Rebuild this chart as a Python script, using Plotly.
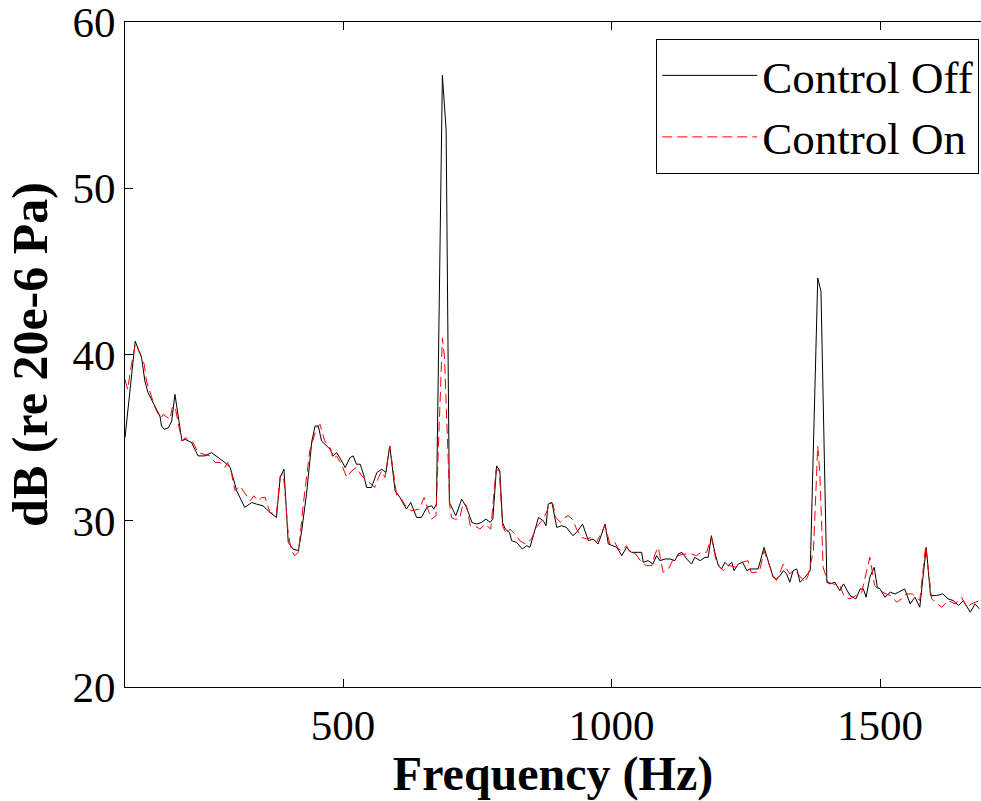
import plotly.graph_objects as go

# Control Off (black, solid)
freq_off = [94, 113, 125, 131, 137, 147, 153, 159, 162, 167, 175, 181, 187, 193, 200, 206, 218, 230, 243, 255,
            268, 280, 290, 302, 317, 330, 339, 351, 364, 376, 383, 390, 398, 407, 417, 423, 432, 442, 448, 454,
            460, 470, 476, 482, 488, 494, 504, 513, 519, 525, 532, 538, 544, 553, 563, 572, 580, 587, 597, 606,
            618, 626, 637, 646, 656, 665, 669, 674, 685, 692, 698, 710, 721, 730, 740, 749, 758, 766, 774, 779,
            786, 792, 797, 802, 810, 814, 823, 834, 842, 848, 854, 864, 873, 878, 882, 889, 898, 907, 916, 928,
            935, 946, 957, 966, 975, 988, 994, 1003, 1010, 1019, 1028, 1037, 1047, 1056, 1059, 1068, 1077, 1084,
            1090, 1100, 1109, 1118, 1124, 1131, 1140, 1149, 1155, 1165, 1174, 1180, 1186, 1193, 1199, 1205, 1211,
            1217, 1224, 1228, 1236, 1244, 1252, 1258, 1267, 1273, 1284, 1292, 1301, 1307, 1314, 1320, 1326, 1332,
            1338, 1345, 1351, 1360, 1370, 1384, 1390, 1401, 1407, 1416, 1425, 1432, 1444, 1455, 1463, 1469, 1474,
            1481, 1489, 1495, 1500, 1509, 1519, 1528, 1546, 1556, 1565, 1574, 1586, 1594, 1605, 1617, 1627, 1636,
            1646, 1655, 1668, 1677, 1685]
db_off = [35.0, 40.8, 39.8, 38.4, 37.7, 37.1, 36.7, 36.3, 35.7, 35.5, 35.6, 36.0, 37.6, 36.4, 34.8, 34.9, 34.7,
          33.9, 33.9, 34.1, 33.8, 33.5, 33.2, 31.8, 30.8, 31.1, 31.0, 30.9, 30.5, 30.2, 32.6, 33.1, 28.7, 28.3,
          28.2, 29.4, 31.6, 34.8, 35.7, 35.7, 34.8, 34.5, 34.3, 33.9, 34.1, 33.8, 33.2, 33.8, 33.9, 33.4, 33.4,
          32.8, 32.0, 32.0, 32.9, 33.1, 32.9, 34.5, 31.8, 31.4, 30.7, 31.1, 30.2, 30.2, 30.8, 30.9, 30.7, 31.0,
          56.8, 53.5, 31.1, 30.3, 31.3, 30.8, 29.9, 29.8, 29.9, 30.1, 29.9, 30.1, 33.3, 33.0, 29.9, 29.5, 29.3,
          28.8, 28.7, 28.3, 28.5, 28.4, 29.1, 30.2, 30.0, 29.7, 31.0, 31.1, 29.6, 29.7, 29.6, 29.1, 29.3, 29.8,
          28.8, 28.9, 28.6, 29.8, 28.6, 28.5, 28.4, 27.9, 28.4, 28.1, 28.1, 28.1, 27.5, 27.6, 27.4, 27.9, 27.6,
          27.7, 27.7, 27.6, 28.0, 28.1, 27.7, 27.4, 27.8, 27.6, 27.8, 27.8, 29.1, 28.0, 27.3, 27.1, 27.5, 27.3,
          27.5, 27.0, 27.4, 27.5, 27.0, 27.1, 27.1, 27.1, 28.4, 27.6, 26.6, 26.5, 26.7, 27.0, 26.8, 26.3, 27.0,
          27.1, 26.3, 26.6, 27.0, 44.6, 43.8, 26.3, 26.2, 26.3, 25.8, 26.2, 25.5, 25.3, 25.9, 25.9, 25.4, 26.6,
          27.2, 26.0, 25.9, 25.4, 25.7, 25.6, 25.9, 25.0, 25.4, 24.8, 28.4, 25.5, 25.5, 25.6, 25.3, 25.2, 24.9,
          25.2, 24.5, 25.0, 24.7]

# Control On (red, dashed)
freq_on = [94, 99, 105, 113, 122, 130, 134, 141, 150, 156, 162, 165, 178, 182, 187, 193, 200, 206, 221, 230,
           252, 262, 271, 280, 285, 290, 299, 308, 317, 327, 334, 342, 349, 355, 364, 376, 383, 389, 398, 404,
           410, 417, 426, 438, 451, 457, 466, 476, 482, 488, 497, 507, 516, 525, 535, 544, 553, 559, 566, 572,
           578, 587, 600, 609, 618, 628, 642, 651, 659, 665, 673, 685, 689, 699, 702, 708, 717, 724, 730, 737,
           745, 755, 764, 775, 785, 791, 797, 804, 811, 820, 829, 840, 851, 860, 870, 879, 885, 891, 896, 905,
           913, 919, 927, 935, 944, 954, 963, 972, 981, 988, 997, 1006, 1013, 1019, 1028, 1034, 1045, 1056, 1065,
           1075, 1081, 1087, 1090, 1096, 1106, 1115, 1124, 1135, 1149, 1158, 1167, 1177, 1186, 1194, 1202, 1208,
           1220, 1232, 1242, 1254, 1260, 1269, 1276, 1284, 1292, 1301, 1307, 1320, 1332, 1338, 1347, 1360, 1366,
           1376, 1384, 1388, 1394, 1403, 1413, 1425, 1434, 1444, 1455, 1466, 1481, 1490, 1500, 1511, 1520, 1531,
           1540, 1549, 1560, 1574, 1585, 1596, 1615, 1627, 1640, 1652, 1661, 1670, 1685]
db_on = [38.5, 37.9, 39.2, 40.6, 40.1, 39.4, 38.4, 37.7, 36.8, 36.4, 36.2, 36.4, 36.1, 36.8, 36.9, 35.9, 34.8,
         35.0, 34.7, 34.1, 33.9, 33.5, 33.5, 33.2, 33.5, 33.2, 31.8, 32.1, 31.7, 31.2, 31.5, 31.2, 31.4, 31.4,
         30.5, 30.4, 32.7, 32.8, 29.2, 28.2, 27.9, 28.1, 31.0, 34.2, 35.6, 35.8, 34.8, 34.4, 33.7, 33.9, 33.4,
         32.6, 33.0, 33.2, 32.7, 32.4, 32.2, 32.0, 32.6, 33.0, 32.6, 34.5, 31.5, 31.3, 30.8, 30.6, 30.7, 31.4,
         30.6, 30.1, 30.3, 41.0, 39.8, 30.8, 30.2, 30.1, 30.1, 31.1, 30.9, 29.7, 29.7, 29.5, 29.8, 29.5, 33.1,
         33.0, 29.7, 29.2, 29.5, 29.2, 28.8, 28.6, 28.9, 29.6, 30.0, 30.5, 31.1, 31.0, 30.2, 29.9, 30.2, 30.3,
         30.1, 29.5, 29.0, 28.9, 29.0, 28.7, 29.3, 29.7, 28.6, 28.7, 28.3, 28.2, 28.5, 28.1, 28.0, 27.5, 27.3,
         27.3, 28.0, 28.4, 27.9, 26.9, 27.1, 27.7, 27.9, 28.0, 28.0, 27.9, 28.1, 28.1, 29.0, 27.7, 27.2, 27.0,
         27.3, 27.2, 27.5, 27.6, 26.9, 26.9, 27.0, 28.2, 27.5, 26.7, 26.4, 27.4, 26.8, 27.0, 26.8, 26.3, 26.7,
         28.2, 34.5, 32.8, 27.2, 26.3, 26.2, 26.1, 25.4, 25.3, 25.5, 25.7, 27.8, 26.1, 25.8, 25.6, 25.5, 25.1,
         25.3, 25.6, 25.6, 25.2, 28.5, 25.3, 24.8, 25.2, 25.0, 25.4, 24.8, 25.0, 25.2]

x_ticks = [500, 1000, 1500]
y_ticks = [20, 30, 40, 50, 60]

font_name = "Liberation Serif"

fig = go.Figure()

fig.add_trace(go.Scatter(
    x=freq_off,
    y=db_off,
    name="Control Off",
    mode="lines",
    line=dict(color="black", width=1),
))

fig.add_trace(go.Scatter(
    x=freq_on,
    y=db_on,
    name="Control On",
    mode="lines",
    line=dict(color="red", width=1, dash="10px,5px"),
))

fig.update_xaxes(
    range=[94, 1688],
    tickvals=x_ticks,
    ticks="inside",
    ticklen=8,
    tickcolor="black",
    showline=True,
    linecolor="black",
    linewidth=1,
    mirror="ticks",
    showgrid=False,
    zeroline=False,
    ticklabeloverflow="allow",
    tickfont=dict(family=font_name, size=43, color="black"),
    title=dict(text="<b>Frequency (Hz)</b>", font=dict(family=font_name, size=48, color="black"), standoff=6),
)
fig.update_yaxes(
    range=[20, 60],
    tickvals=y_ticks,
    ticks="inside",
    ticklen=8,
    tickcolor="black",
    showline=True,
    linecolor="black",
    linewidth=1,
    showgrid=False,
    zeroline=False,
    ticklabeloverflow="allow",
    tickfont=dict(family=font_name, size=43, color="black"),
    title=dict(text="<b>dB (re 20e-6 Pa)</b>", font=dict(family=font_name, size=50, color="black"), standoff=8),
)

fig.update_layout(
    width=981,
    height=801,
    margin=dict(l=125, r=0, t=22, b=114),
    plot_bgcolor="white",
    paper_bgcolor="white",
    font=dict(family=font_name, color="black"),
    legend=dict(
        x=0.998, y=0.975, xanchor="right", yanchor="top",
        bordercolor="black", borderwidth=1, bgcolor="white",
        font=dict(family=font_name, size=45, color="black"),
        itemwidth=95,
        tracegroupgap=0,
    ),
)

fig.write_html("out.html", config={"displayModeBar": False},
               post_script="document.body.style.margin='0';")
